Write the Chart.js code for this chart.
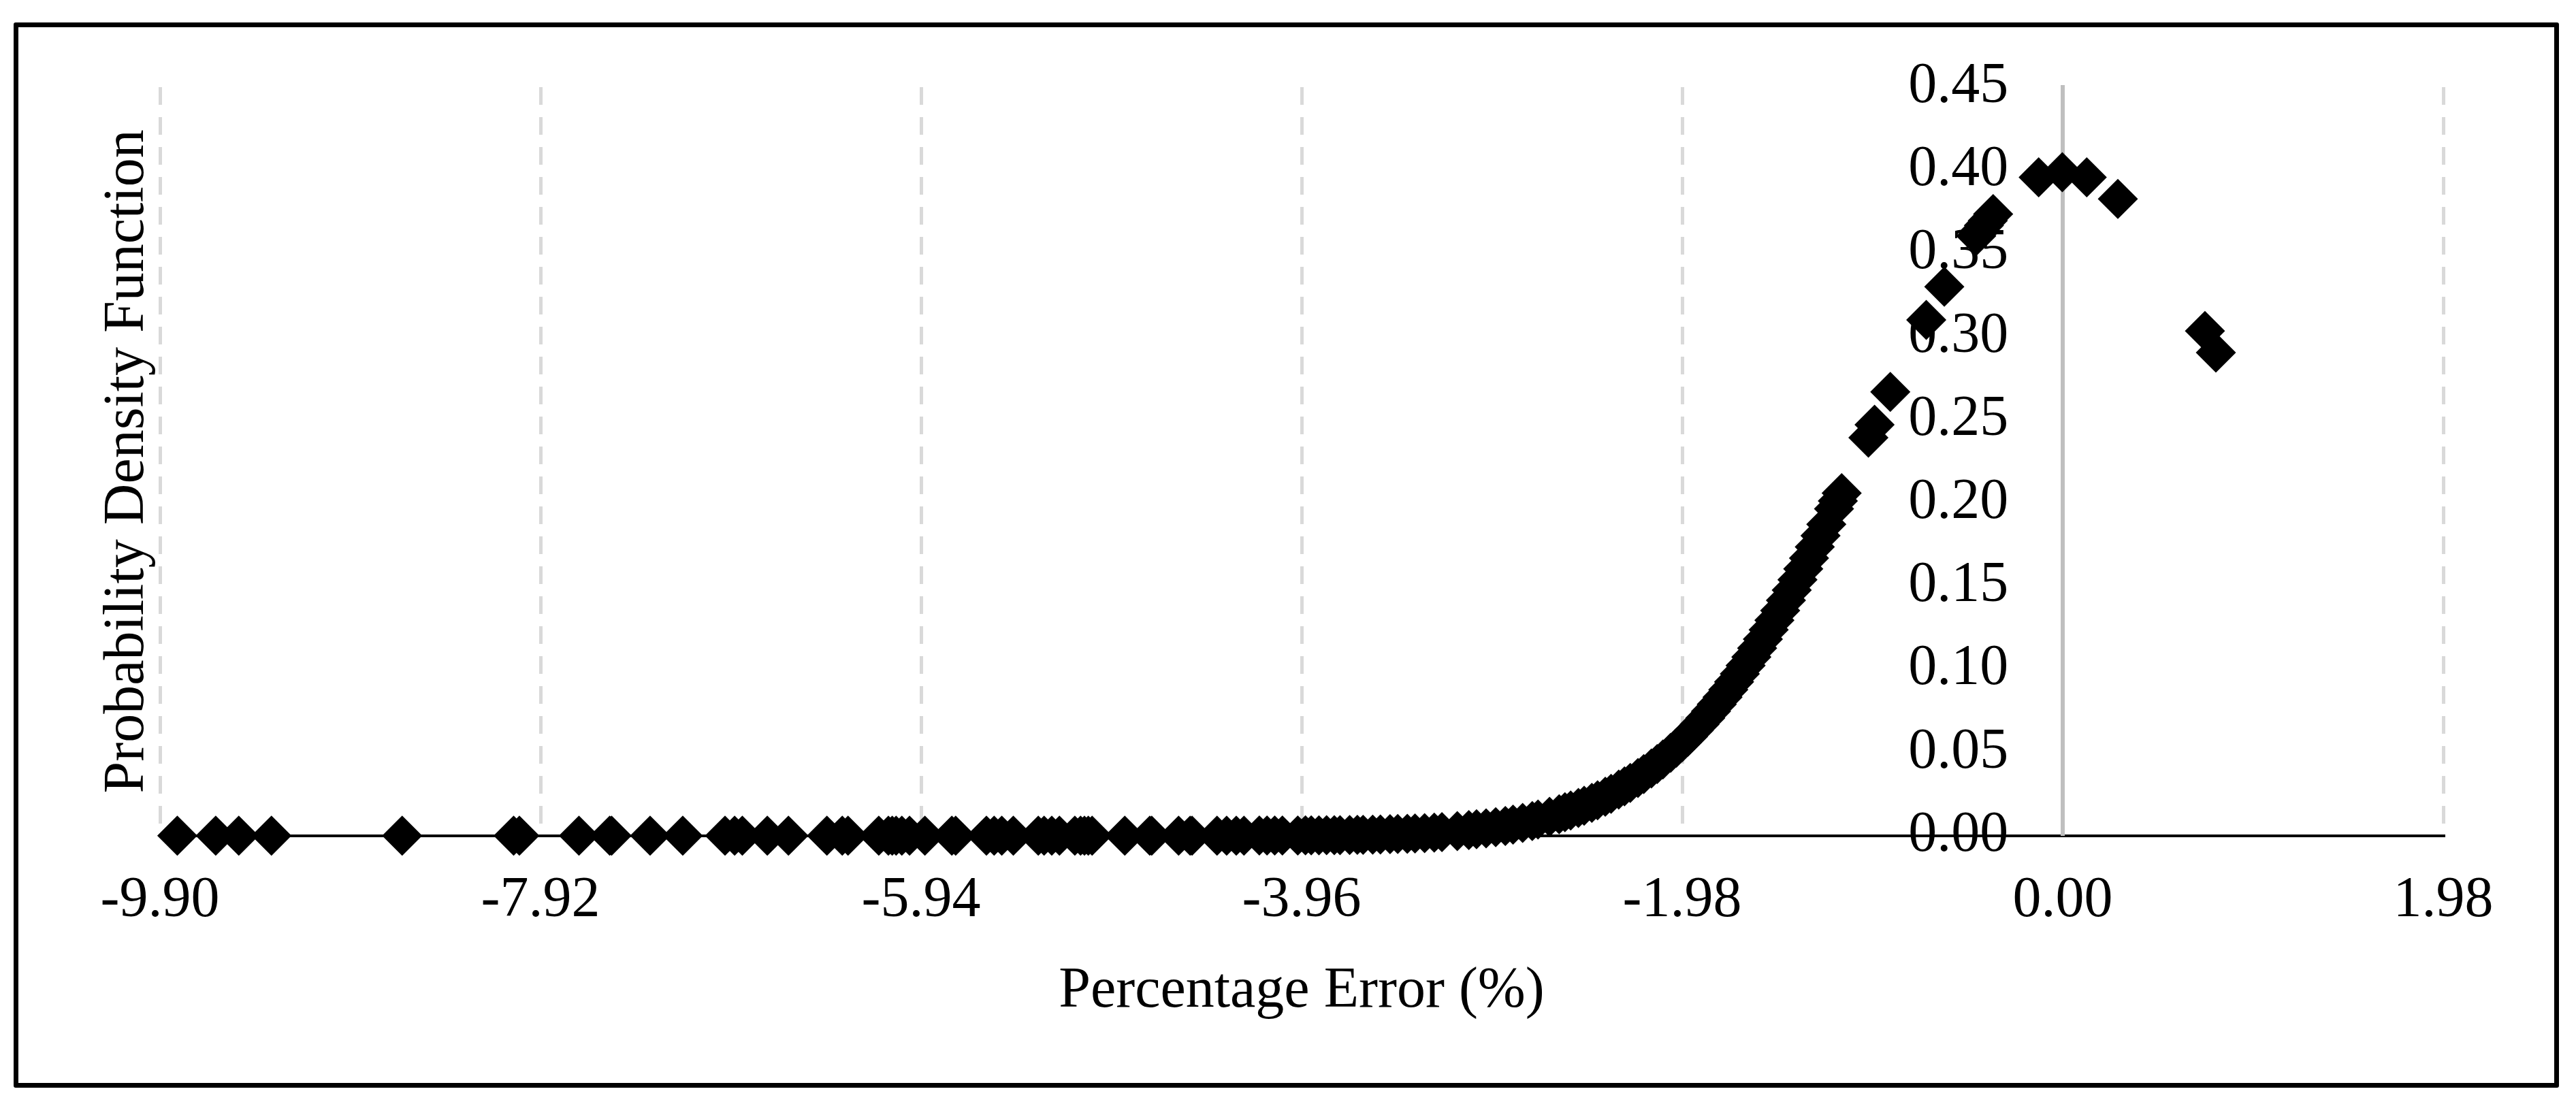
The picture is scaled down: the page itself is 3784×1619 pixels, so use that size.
<!DOCTYPE html>
<html>
<head>
<meta charset="utf-8">
<script src="https://cdn.jsdelivr.net/npm/chart.js@4/dist/chart.umd.min.js"></script>
<style>
    html, body { margin: 0; padding: 0; background: #fff; overflow: hidden; }
    #wrap { position: relative; width: 3784px; height: 1619px; }
    #frame {
        position: absolute; left: 20px; top: 33px; width: 3739px; height: 1565px;
        box-sizing: border-box; border: 7px solid #000; border-radius: 3px; pointer-events: none;
    }
</style>
</head>
<body>
<div id="wrap">
    <canvas id="pdfChart"></canvas>
    <div id="frame"></div>
</div>
<script>
// tick labels
const xTicks = [-9.90, -7.92, -5.94, -3.96, -1.98, 0.00, 1.98];
const yTicks = [0.00, 0.05, 0.10, 0.15, 0.20, 0.25, 0.30, 0.35, 0.40, 0.45];

// percentage error of each sample
const errorPct = [
    -9.81, -9.61, -9.49, -9.32, -8.64, -8.06, -8.03, -7.72, -7.56, -7.55, -7.35, -7.18,
    -6.96, -6.91, -6.87, -6.74, -6.63, -6.43, -6.35, -6.32,
    -6.16, -6.11, -6.09, -6.07, -6.04, -6.00, -5.92, -5.78, -5.76, -5.60, -5.56, -5.52, -5.46,
    -5.33, -5.30, -5.26, -5.22, -5.14, -5.11, -5.09, -5.07, -5.05, -4.88, -4.75, -4.74, -4.60, -4.54, -4.53, -4.40,
    -4.35, -4.30, -4.26, -4.18, -4.14, -4.10, -4.06, -3.98, -3.94, -3.91, -3.87, -3.83, -3.79,
    -3.76, -3.71, -3.67, -3.64, -3.59, -3.55, -3.50, -3.46, -3.41, -3.37, -3.32, -3.27, -3.23,
    -3.15, -3.09, -3.05, -3.00, -2.95, -2.90, -2.86, -2.81, -2.76, -2.73, -2.67, -2.62, -2.59, -2.56,
    -2.52, -2.49, -2.45, -2.42, -2.38, -2.35, -2.31, -2.28, -2.25, -2.21, -2.18, -2.14, -2.11, -2.08, -2.04, -2.01,
    -1.98, -1.95, -1.92, -1.89, -1.86, -1.83, -1.80, -1.77, -1.74, -1.71, -1.68, -1.65, -1.62, -1.59, -1.56,
    -1.53, -1.50, -1.47, -1.44, -1.41, -1.38, -1.35, -1.32, -1.29, -1.26, -1.23, -1.19, -1.17, -1.15,
    -1.011, -0.979, -0.897, -0.710, -0.616, -0.45, -0.43, -0.41, -0.39, -0.362, -0.125, -0.002, 0.125, 0.287, 0.740, 0.797
];

// probability density at each sample
const density = [
    0, 0, 0, 0, 0, 0, 0, 0, 0, 0, 0, 0,
    0, 0, 0, 0, 0, 0, 0, 0,
    0, 0, 0, 0, 0, 0, 0, 0, 0, 0, 0, 0, 0,
    0, 0, 0, 0, 0, 0, 0, 0, 0, 0, 0, 0, 0, 0, 0, 0,
    0.0000, 0.0000, 0.0000, 0.0001, 0.0001, 0.0001, 0.0001, 0.0001, 0.0002, 0.0002, 0.0002, 0.0003, 0.0003,
    0.0003, 0.0004, 0.0005, 0.0005, 0.0006, 0.0007, 0.0009, 0.0010, 0.0012, 0.0014, 0.0016, 0.0019, 0.0022,
    0.0028, 0.0034, 0.0039, 0.0044, 0.0051, 0.0059, 0.0067, 0.0077, 0.0088, 0.0097, 0.0114, 0.0129, 0.0141, 0.0152,
    0.0167, 0.0180, 0.0198, 0.0213, 0.0235, 0.0252, 0.0277, 0.0297, 0.0317, 0.0347, 0.0371, 0.0404, 0.0431, 0.0459, 0.0498, 0.0529,
    0.0562, 0.0596, 0.0632, 0.0669, 0.0707, 0.0748, 0.0790, 0.0833, 0.0878, 0.0925, 0.0973, 0.1023, 0.1074, 0.1127, 0.1182,
    0.1238, 0.1295, 0.1354, 0.1415, 0.1476, 0.1539, 0.1604, 0.1669, 0.1736, 0.1804, 0.1872, 0.1965, 0.2012, 0.2059,
    0.2393, 0.2471, 0.2668, 0.3101, 0.3300, 0.3605, 0.3637, 0.3668, 0.3697, 0.3737, 0.3958, 0.3989, 0.3958, 0.3828, 0.3034, 0.2904
];

const FONT = 'Liberation Serif, Times New Roman, serif';

const points = errorPct.map((x, i) => ({ x: x, y: density[i] }));

new Chart(document.getElementById('pdfChart'), {
    type: 'scatter',
    data: {
        datasets: [{
            label: 'PDF',
            data: points,
            pointStyle: 'rectRot',
            pointRadius: 29.5,
            pointHoverRadius: 29.5,
            pointBorderWidth: 0,
            backgroundColor: '#000',
            borderColor: '#000',
            clip: false
        }]
    },
    options: {
        responsive: true,
        maintainAspectRatio: false,
        animation: false,
        devicePixelRatio: 1,
        layout: {
            padding: { left: 146, right: 195, top: 128, bottom: 138 }
        },
        plugins: {
            legend: { display: false },
            tooltip: { enabled: false }
        },
        scales: {
            x: {
                type: 'linear',
                position: 'bottom',
                min: -9.9,
                max: 1.98,
                afterBuildTicks: (scale) => { scale.ticks = xTicks.map(v => ({ value: v })); },
                grid: { color: '#d9d9d9', lineWidth: 5, drawTicks: false },
                border: { display: true, color: '#000', width: 4, dash: [26, 18] },
                ticks: {
                    color: '#000',
                    padding: 46,
                    maxRotation: 0,
                    font: { family: FONT, size: 84 },
                    callback: (v) => Number(v).toFixed(2)
                },
                title: {
                    display: true,
                    text: 'Percentage Error (%)',
                    color: '#000',
                    font: { family: FONT, size: 84, lineHeight: 0.576 },
                    padding: { top: 12, bottom: 0 }
                }
            },
            y: {
                type: 'linear',
                position: { x: 0 },
                min: 0,
                max: 0.45,
                afterBuildTicks: (scale) => { scale.ticks = yTicks.map(v => ({ value: v })); },
                grid: { display: false, drawTicks: false },
                border: { display: true, color: '#bfbfbf', width: 6 },
                ticks: {
                    color: '#000',
                    font: { family: FONT, size: 84 },
                    callback: (v) => Number(v).toFixed(2) + '   \u2009'
                }
            },
            yTitle: {
                type: 'linear',
                position: 'left',
                min: 0,
                max: 0.45,
                grid: { display: false, drawTicks: false },
                border: { display: false },
                ticks: { display: false },
                title: {
                    display: true,
                    text: 'Probability Density Function',
                    color: '#000',
                    font: { family: FONT, size: 84, lineHeight: 1 },
                    padding: { top: 0, bottom: 5 }
                }
            }
        }
    }
});
</script>
</body>
</html>
